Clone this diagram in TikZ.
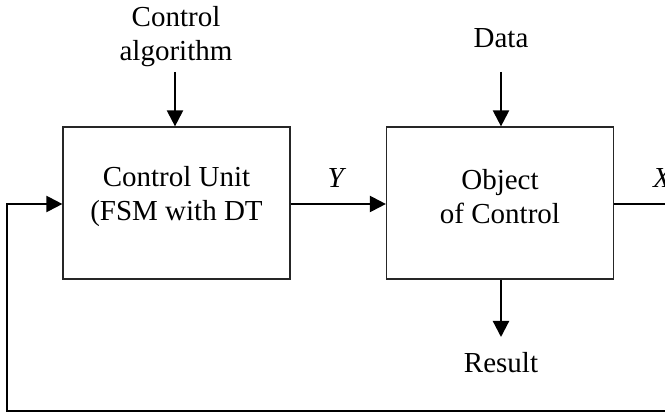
\documentclass[tikz,border=0pt]{standalone}
\usepackage{fontspec}
\setmainfont{Liberation Serif}
\usetikzlibrary{arrows.meta, positioning}
\tikzset{
  % Blocks of the scheme
  unitbox/.style={draw=black!85, line width=1.2pt, minimum width=227pt, minimum height=152pt, inner sep=0pt},
  boxtext/.style={align=center, inner sep=0pt},
  % Labels outside the blocks
  signal/.style={align=center, inner sep=0pt},
  % Connectors
  flowpointer/.style={-{Triangle[length=16pt, width=16pt]}, line width=2.2pt},
  flowline/.style={line width=2.2pt},
}

\begin{document}
\begin{tikzpicture}[x=1pt, y=-1pt, font=\fontsize{29}{34}\selectfont]
      \useasboundingbox (0,0) rectangle (665,414);

      \node[unitbox] (cu) at (176.5,203) {};
      \node[unitbox] (obj) at (500,203) {};
      \node[boxtext] (cutext) at ([yshift=6pt]cu.center) {Control Unit\\(FSM with DT};
      \node[boxtext] (objtext) at ([yshift=6pt]obj.center) {Object\\of Control};

      \node[signal] (alg) at (176,37) {Control\\algorithm};
      \node[signal] (data) at (501,38) {Data};
      \node[signal] (res) at (501,363) {Result};
      \node[signal] (y) at (337,178) {\textit{Y}};
      \node[signal, anchor=west] (x) at (653,178) {\textit{X}};

      \coordinate (algend) at (175,72);
      \coordinate (dataend) at (501,72);
      \coordinate (resend) at (501,337);
      \coordinate (xend) at (665,204);
      \coordinate (loopend) at (665,411);
      \coordinate (loopleft) at (7,411);

      \draw[flowpointer] (algend) -- (algend |- cu.north);
      \draw[flowpointer] (dataend) -- (dataend |- obj.north);
      \draw[flowpointer] (resend |- obj.south) -- (resend);
      \draw[flowpointer] (cu.east |- 0,204) -- (obj.west |- 0,204);
      \draw[flowline] (obj.east |- 0,204) -- (xend);
      \draw[flowpointer] (loopend) -- (loopleft) |- (cu.west |- 0,204);

    \end{tikzpicture}
\end{document}
